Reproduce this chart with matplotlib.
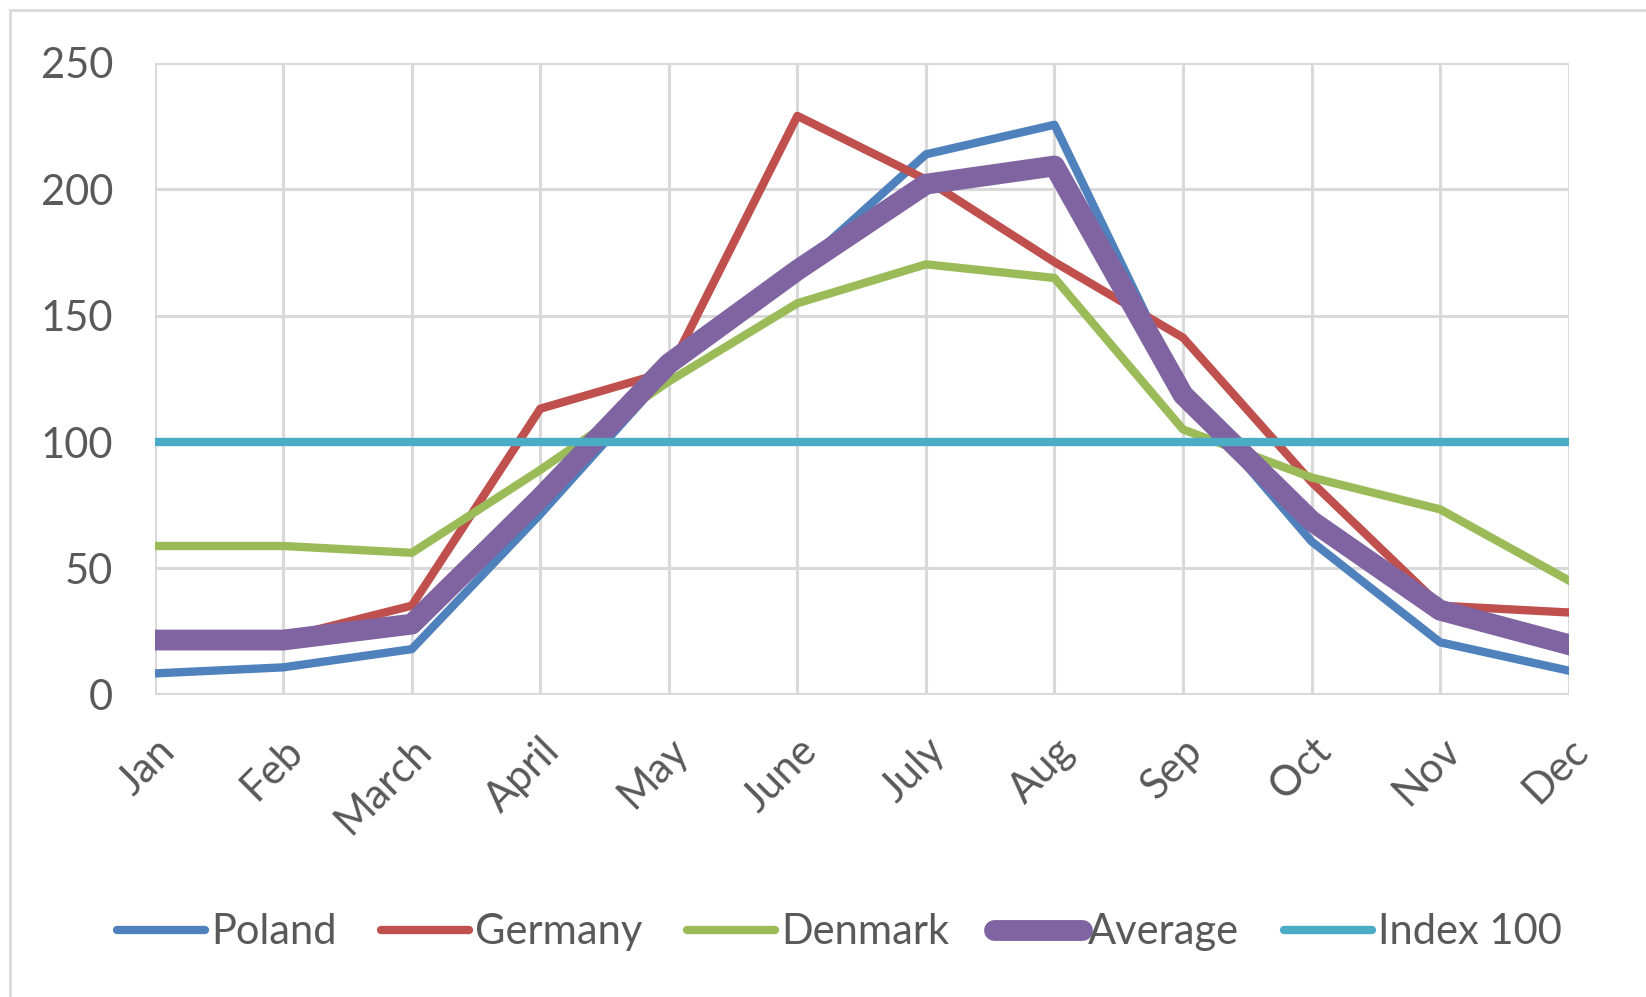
import matplotlib
matplotlib.use("Agg")
import matplotlib.pyplot as plt
import numpy as np
from matplotlib.patches import Rectangle

plt.rcParams['font.family'] = ['Lato', 'DejaVu Sans']

# data
months = ['Jan', 'Feb', 'March', 'April', 'May', 'June', 'July', 'Aug', 'Sep', 'Oct', 'Nov', 'Dec']
poland = [8.5, 10.9, 18.1, 71.5, 128, 168, 213.8, 225.5, 120, 60.7, 20.8, 9.6]
germany = [22, 22.5, 35.3, 113.2, 128, 229, 203.8, 171.2, 141.3, 84.2, 35.3, 32.6]
denmark = [58.9, 58.9, 56.2, 89, 124, 154.9, 170.3, 164.9, 105, 86, 73.4, 45.3]
average = [21.7, 21.7, 28, 78, 131, 168, 202, 209.2, 118.7, 68.8, 33.5, 19.9]
index100 = [100] * 12

text_col = '#595959'
grid_col = '#D9D9D9'

fig = plt.figure(figsize=(16.46, 9.97), dpi=100)
ax = fig.add_axes([0.094, 0.303, 0.859, 0.634])

x = np.arange(len(months))
ax.plot(x, poland, color='#4F81BD', lw=6, label='Poland', zorder=3)
ax.plot(x, germany, color='#C0504D', lw=6, label='Germany', zorder=3)
ax.plot(x, denmark, color='#9BBB59', lw=6, label='Denmark', zorder=3)
ax.plot(x, average, color='#8064A2', lw=15, label='Average', zorder=4)
ax.plot(x, index100, color='#4BACC6', lw=6, label='Index 100', zorder=5)

ax.set_xlim(0, len(months) - 1)
ax.set_ylim(0, 250)
ax.set_yticks(range(0, 251, 50))
ax.set_xticks(x)
ax.set_xticklabels(months, rotation=45, ha='right', va='top', rotation_mode='anchor')
ax.tick_params(axis='both', length=0, labelsize=30, colors=text_col)
ax.tick_params(axis='x', pad=26)
ax.tick_params(axis='y', pad=30)

ax.grid(True, color=grid_col, lw=2.2)
ax.set_axisbelow(True)
for s in ax.spines.values():
    s.set_visible(False)
ax.axhline(0, color=grid_col, lw=3, zorder=1)

leg = fig.legend(loc='center', bbox_to_anchor=(0.51, 0.065), ncol=5, frameon=False,
                 fontsize=30, handlelength=2.1, handletextpad=0.15, columnspacing=1.08)
for t in leg.get_texts():
    t.set_color(text_col)
for h in leg.get_lines():
    h.set_solid_capstyle('round')

# outer chart border
fig.patches.append(Rectangle((0.006, -0.1), 1.2, 1.09, transform=fig.transFigure,
                             fill=False, edgecolor=grid_col, lw=2))

fig.savefig('out.png', dpi=100)
